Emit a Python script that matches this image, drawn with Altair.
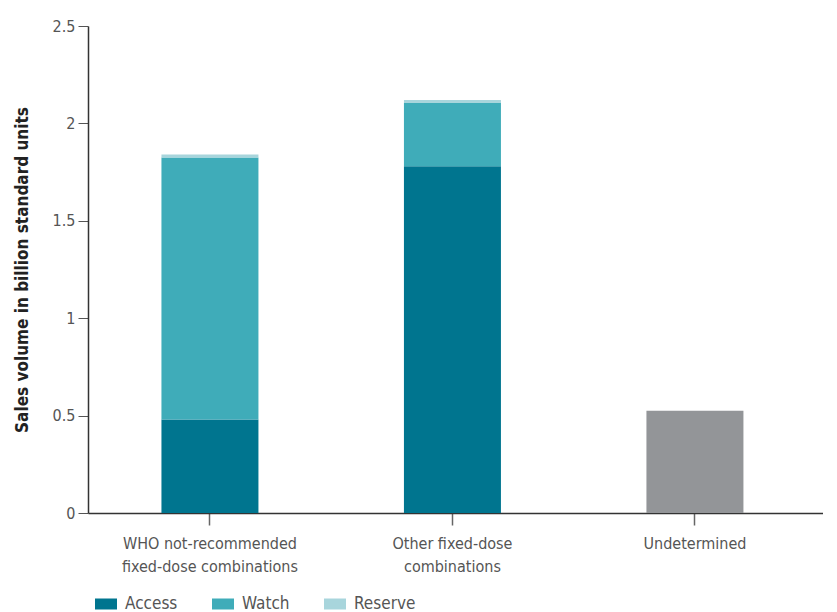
import altair as alt
import pandas as pd

categories = ["WHO not-recommended\nfixed-dose combinations", "Other fixed-dose\ncombinations", "Undetermined"]
groups = ["Access", "Watch", "Reserve", "Undetermined"]
access = [0.48, 1.78, 0.0]
watch = [1.345, 0.325, 0.0]
reserve = [0.015, 0.015, 0.0]
undetermined = [0.0, 0.0, 0.525]
colors = ["#00758F", "#3FACB9", "#A8D5DC", "#939598"]

rows = []
for i, c in enumerate(categories):
    for k, (g, vals) in enumerate(zip(groups, [access, watch, reserve, undetermined])):
        if vals[i] > 0:
            rows.append({"category": c, "group": g, "value": vals[i], "order": k})
df = pd.DataFrame(rows)

FONT = "Liberation Sans Narrow, DejaVu Sans Condensed, sans-serif"

chart = alt.Chart(df).mark_bar().encode(
    x=alt.X("category:N", sort=categories,
            scale=alt.Scale(paddingInner=0.6, paddingOuter=0.3155, align=0.48),
            axis=alt.Axis(title=None, labelAngle=0, labelExpr="split(datum.value, '\\n')",
                          labelFontSize=16, labelColor="#555555", labelFont=FONT,
                          labelLineHeight=23, labelPadding=10,
                          domainColor="#333333", domainWidth=1.5,
                          tickColor="#666666", tickSize=12, tickWidth=1.5, grid=False)),
    y=alt.Y("value:Q", stack="zero",
            scale=alt.Scale(domain=[0, 2.5], nice=False),
            axis=alt.Axis(title="Sales volume in billion standard units",
                          values=[0, 0.5, 1, 1.5, 2, 2.5], format="~g",
                          titleFont=FONT, titleFontSize=17, titleFontWeight="bold",
                          titleColor="#222222", titlePadding=21,
                          labelFont=FONT, labelFontSize=16, labelColor="#555555",
                          labelPadding=3, tickSize=10, tickColor="#555555",
                          domainColor="#333333", domainWidth=1.5, grid=False)),
    color=alt.Color("group:N", scale=alt.Scale(domain=groups, range=colors),
                    legend=alt.Legend(title=None, values=["Access", "Watch", "Reserve"],
                                      orient="none", legendX=7, legendY=567,
                                      direction="horizontal",
                                      symbolType="M-1,-0.5H1V0.5H-1Z", symbolSize=484,
                                      symbolStrokeWidth=0, symbolOpacity=1,
                                      labelFont=FONT, labelFontSize=17, labelColor="#555555",
                                      labelOffset=8, columnPadding=34)),
    order=alt.Order("order:Q"),
).properties(
    width=735, height=487,
    autosize=alt.AutoSizeParams(type="none"),
    padding={"left": 80, "top": 18, "right": 0, "bottom": 100},
).configure_view(stroke=None)

chart.save("out.html", embed_options={"renderer": "svg", "actions": False})
